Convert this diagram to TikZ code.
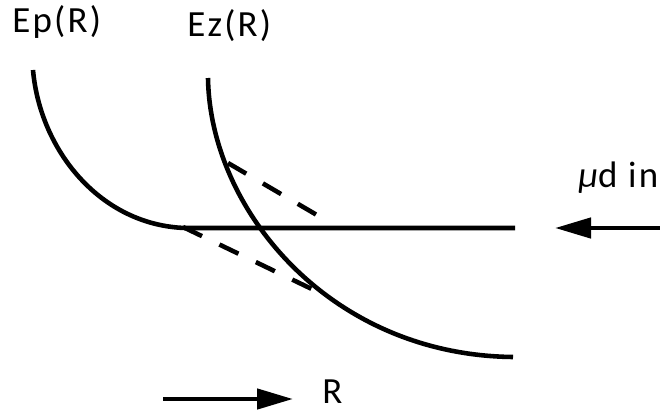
\documentclass[tikz,border=0pt]{standalone}
\usepackage{fontspec}
\setmainfont{Carlito}[LetterSpace=6]
\usepackage{xcolor}
\usepackage{tikz}
\usetikzlibrary{arrows.meta,positioning,calc}
\definecolor{Ink}{HTML}{000000}
\tikzset{
  curve/.style={draw=Ink,line width=2.6pt},
  tangent/.style={draw=Ink,line width=2.6pt,dash pattern=on 12pt off 11pt},
  arrow/.style={-{Triangle[length=0.72cm,width=0.4cm]},draw=Ink,line width=2.6pt},
  lbl/.style={anchor=base west,inner sep=0pt,font=\fontsize{21}{25}\selectfont,text=Ink}
}
\begin{document}
\begin{tikzpicture}
  \useasboundingbox (0,0) rectangle (13.2,8.22);
  % energy curves
  \coordinate (ptop) at (0.66,6.82);
  \coordinate (pend) at (3.7,3.66);
  \coordinate (flatend) at (10.3,3.66);
  \coordinate (ztop) at (4.16,6.66);
  \coordinate (zend) at (10.26,1.08);
  \draw[curve] (ptop) .. controls (0.8,5.22) and (2.0,3.72) .. (pend) -- (flatend);
  \draw[curve] (ztop) .. controls (4.2,4.02) and (6.6,1.12) .. (zend);
  % dashed tangents
  \coordinate (ua) at (4.56,4.96);
  \coordinate (ub) at (6.44,3.86);
  \coordinate (la) at (3.66,3.68);
  \coordinate (lb) at (6.36,2.38);
  \draw[tangent] (ua) -- (ub);
  \draw[tangent] (la) -- (lb);
  % labels
  \node[lbl] (ep) at (0.24,7.56) {Ep(R)};
  \node[lbl] (ez) at (3.74,7.48) {Ez(R)};
  \node[lbl] (mud) at (11.56,4.48) {{\itshape μ}d in};
  \node[lbl] (rr) at (6.44,0.16) {R};
  % arrows
  \coordinate (inr) at (13.2,3.66);
  \coordinate (inl) at (11.1,3.66);
  \draw[arrow] (inr) -- (inl);
  \coordinate (ra) at (3.26,0.24);
  \coordinate (rb) at (5.86,0.24);
  \draw[arrow] (ra) -- (rb);
\end{tikzpicture}
\end{document}
